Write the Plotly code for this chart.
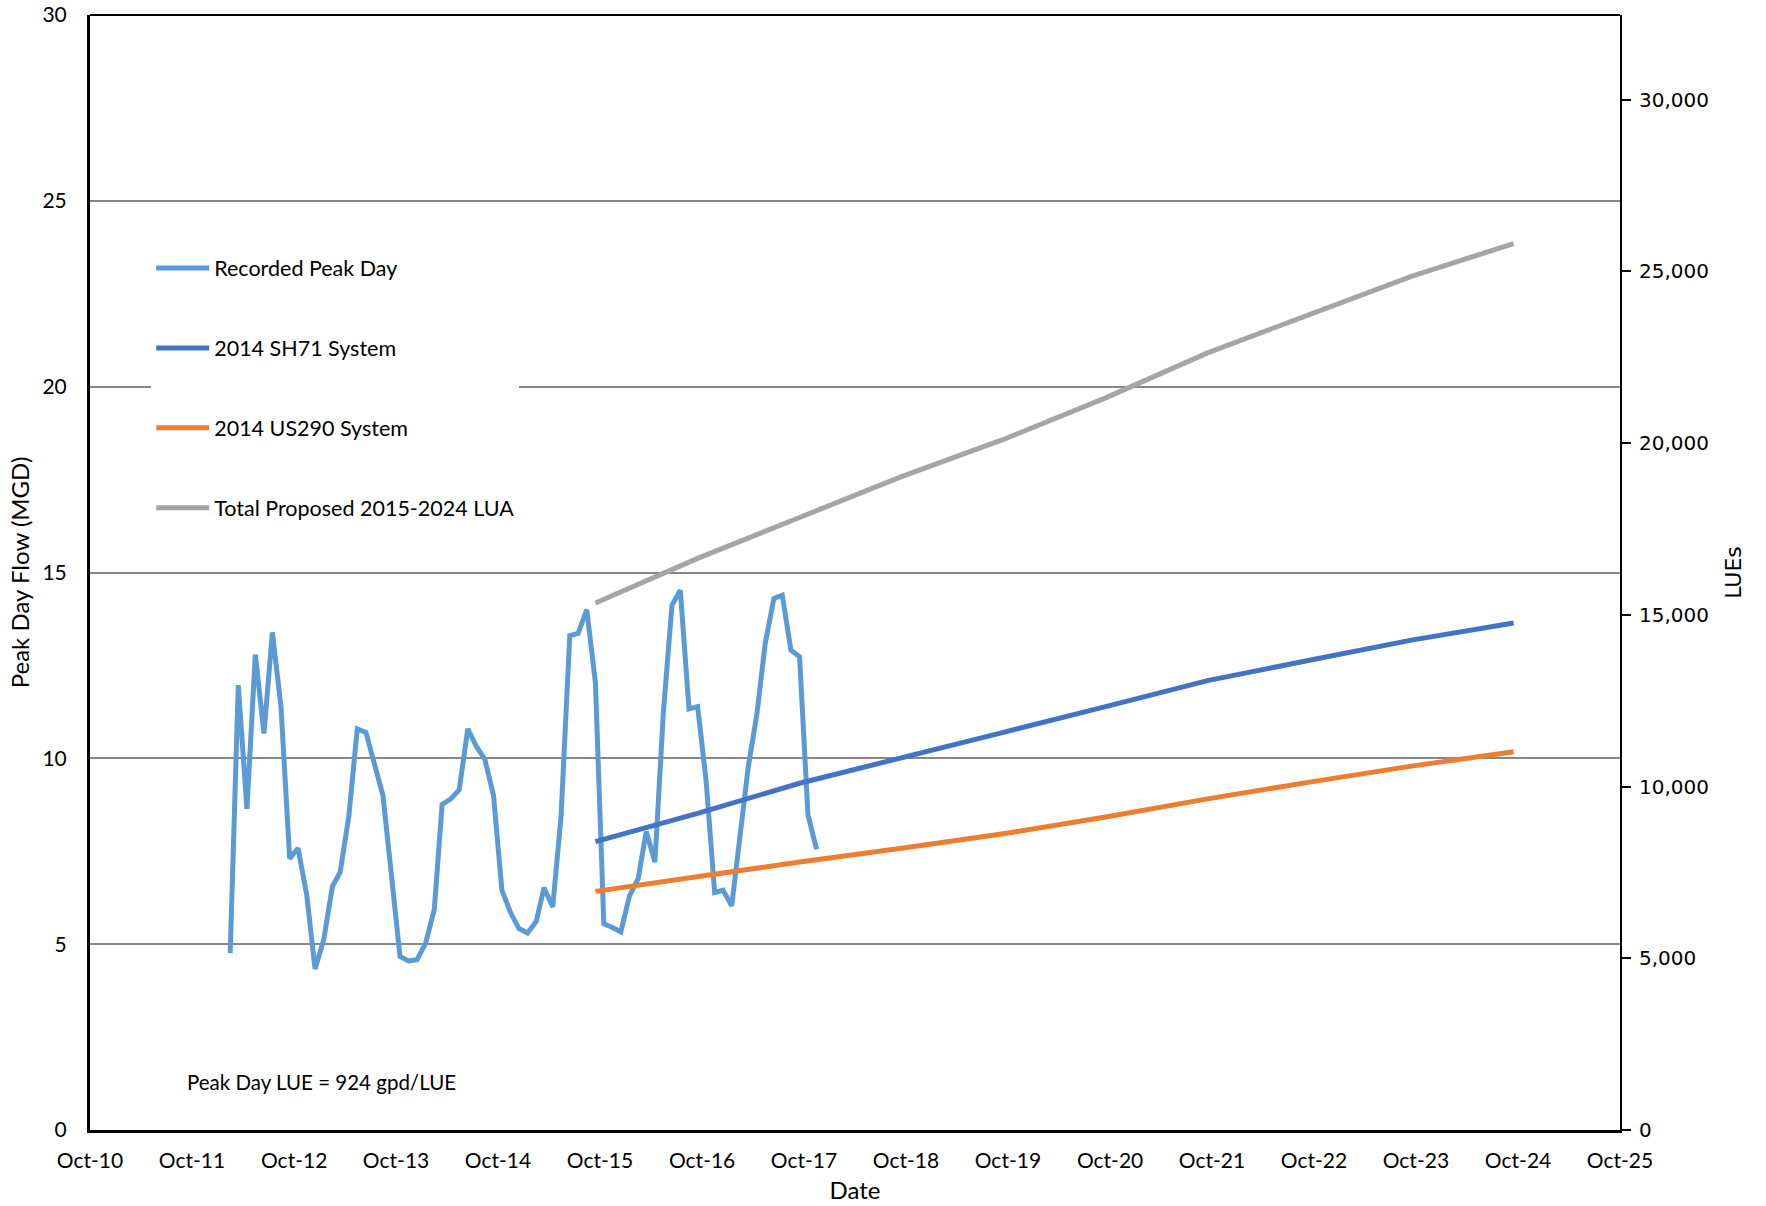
import pandas as pd
import plotly.graph_objects as go

# ---------------- data ----------------
recorded_start = "2012-02-15"
recorded_mgd = [4.76, 11.97, 8.64, 12.79, 10.67, 13.39, 11.39, 7.30, 7.58, 6.33,
                4.33, 5.12, 6.55, 6.94, 8.45, 10.79, 10.70, 9.91, 9.00, 6.82,
                4.67, 4.55, 4.58, 5.03, 5.94, 8.76, 8.91, 9.15, 10.79, 10.33,
                9.97, 9.00, 6.45, 5.85, 5.42, 5.30, 5.61, 6.52, 6.00, 8.45,
                13.30, 13.36, 14.00, 12.03, 5.55, 5.45, 5.33, 6.30, 6.76, 8.03,
                7.21, 11.21, 14.12, 14.52, 11.33, 11.39, 9.42, 6.39, 6.45, 6.03,
                8.12, 9.76, 11.18, 13.09, 14.30, 14.39, 12.91, 12.73, 8.48, 7.55]

projection_years = [2015, 2016, 2017, 2018, 2019, 2020, 2021, 2022, 2023, 2024]
sh71_lue = [8398, 9221, 10097, 10855, 11580, 12327, 13085, 13680, 14264, 14762]
us290_lue = [6948, 7381, 7803, 8203, 8626, 9113, 9643, 10130, 10595, 11017]
total_lua_lue = [15346, 16645, 17836, 19026, 20108, 21320, 22630, 23745, 24859, 25812]

series_names = ["Recorded Peak Day", "2014 SH71 System", "2014 US290 System",
                "Total Proposed 2015-2024 LUA"]
series_colors = ["#5B9BD5", "#4472C4", "#ED7D31", "#A5A5A5"]

peak_day_gpd_per_lue = 924
mgd_max = 30
lue_max = mgd_max * 1e6 / peak_day_gpd_per_lue

recorded_dates = pd.date_range(pd.Timestamp(recorded_start).replace(day=1),
                               periods=len(recorded_mgd), freq="MS") + pd.Timedelta(days=14)
projection_dates = [pd.Timestamp(f"{y}-09-15") for y in projection_years]

# ---------------- figure ----------------
FONT = "Lato"
fig = go.Figure()

fig.add_trace(go.Scatter(x=recorded_dates, y=recorded_mgd, mode="lines",
                         name=series_names[0], legendgroup="a",
                         line=dict(color=series_colors[0], width=5)))
for name, color, vals, grp in zip(series_names[1:], series_colors[1:],
                                  [sh71_lue, us290_lue, total_lua_lue], ["b", "c", "d"]):
    fig.add_trace(go.Scatter(x=projection_dates, y=vals, mode="lines", name=name,
                             legendgroup=grp, yaxis="y2",
                             line=dict(color=color, width=5)))

fig.update_layout(
    width=1766, height=1206,
    margin=dict(l=90, r=146, t=15, b=76, autoexpand=False),
    paper_bgcolor="white", plot_bgcolor="white",
    font=dict(family=FONT, size=21, color="black"),
    showlegend=True,
    legend=dict(x=0.04, y=0.7915, xanchor="left", yanchor="top",
                bgcolor="white", borderwidth=0, tracegroupgap=49,
                itemwidth=53, font=dict(family=FONT, size=21.5)),
    xaxis=dict(type="date", range=["2010-10-01", "2025-10-01"],
               tick0="2010-10-01", dtick="M12", tickformat="%b-%y",
               showgrid=False, zeroline=False, showline=True, automargin=False,
               linecolor="black", linewidth=3, ticks="",
               ticklabelstandoff=10,
               tickfont=dict(family=FONT, size=21),
               title=dict(text="Date", font=dict(family=FONT, size=24), standoff=11)),
    yaxis=dict(range=[0, mgd_max], dtick=5, showgrid=True, gridcolor="#878787",
               gridwidth=2, zeroline=False, showline=True, linecolor="black",
               linewidth=3, ticks="", ticklabelstandoff=16, automargin=False,
               tickfont=dict(family=FONT, size=21),
               title=dict(text="Peak Day Flow (MGD)", font=dict(family=FONT, size=24),
                          standoff=7)),
    yaxis2=dict(range=[0, lue_max], dtick=5000, tickformat=",", overlaying="y",
                side="right", showgrid=False, zeroline=False, showline=True,
                linecolor="black", linewidth=2, ticks="outside", ticklen=9,
                tickwidth=2, tickcolor="black", ticklabelstandoff=4, automargin=False,
                tickfont=dict(family="DejaVu Sans", size=20),
                title=dict(text="LUEs", font=dict(family="DejaVu Sans", size=22),
                           standoff=18)),
    shapes=[dict(type="line", xref="paper", yref="paper", x0=0, x1=1, y0=1, y1=1,
                 line=dict(color="black", width=2))],
    annotations=[dict(text=f"Peak Day LUE = {peak_day_gpd_per_lue} gpd/LUE",
                      xref="paper", yref="paper", x=0.062, y=0.043,
                      xanchor="left", yanchor="middle", showarrow=False,
                      font=dict(family=FONT, size=20.5))],
)

fig.write_html("out.html")
